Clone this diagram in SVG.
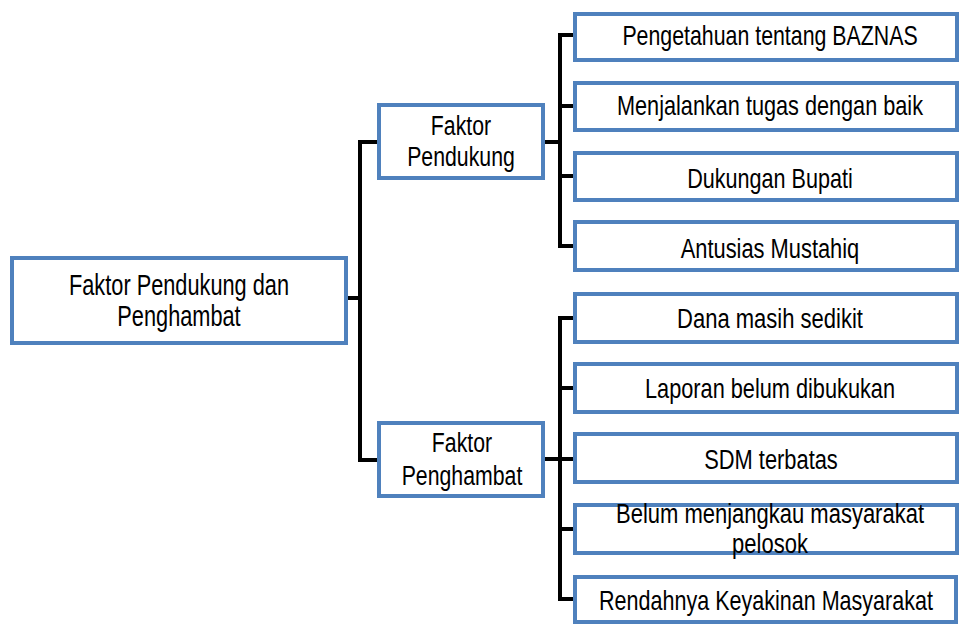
<svg xmlns="http://www.w3.org/2000/svg" width="961" height="624" viewBox="0 0 961 624">
<style>
.box{fill:#fff;stroke:#4F81BD;stroke-width:4}
.t{font-family:"Liberation Sans",Arial,sans-serif;fill:#000;text-anchor:middle}
.l{font-size:29px}
.m{font-size:28px}
.r{font-size:27px}
.c{fill:none;stroke:#000;stroke-width:4;stroke-linejoin:miter}
</style>
<rect width="961" height="624" fill="#fff"/>
<g id="connectors">
<path class="c" d="M346 298H360M379 142H360V460H379"/>
<path class="c" d="M543 142H560M575 35H560V246H575M560 106H575M560 176H575"/>
<path class="c" d="M543 459H560M575 318H560V599H575M560 388H575M560 459H575M560 529H575"/>
</g>
<g id="root">
<rect class="box" x="12" y="258" width="334" height="85"/>
<g transform="translate(179 0) scale(0.75 1)">
<text class="t l" x="0" y="295">Faktor Pendukung dan</text>
<text class="t l" x="0" y="326">Penghambat</text>
</g>
</g>
<g id="pendukung">
<rect class="box" x="379" y="105" width="164" height="73"/>
<g transform="translate(461 0) scale(0.76 1)">
<text class="t m" x="0" y="135">Faktor</text>
<text class="t m" x="0" y="166">Pendukung</text>
</g>
</g>
<g id="penghambat">
<rect class="box" x="379" y="423" width="164" height="73"/>
<g transform="translate(462 0) scale(0.76 1)">
<text class="t m" x="0" y="452">Faktor</text>
<text class="t m" x="0" y="485">Penghambat</text>
</g>
</g>
<g id="n1">
<rect class="box" x="575" y="14" width="382" height="46"/>
<text class="t r" transform="translate(770 0) scale(0.79 1)" x="0" y="45">Pengetahuan tentang BAZNAS</text>
</g>
<g id="n2">
<rect class="box" x="575" y="83" width="382" height="47"/>
<text class="t r" transform="translate(770 0) scale(0.803 1)" x="0" y="115">Menjalankan tugas dengan baik</text>
</g>
<g id="n3">
<rect class="box" x="575" y="153" width="382" height="47"/>
<text class="t r" transform="translate(770 0) scale(0.8 1)" x="0" y="188">Dukungan Bupati</text>
</g>
<g id="n4">
<rect class="box" x="575" y="222" width="382" height="48"/>
<text class="t r" transform="translate(770 0) scale(0.81 1)" x="0" y="258">Antusias Mustahiq</text>
</g>
<g id="n5">
<rect class="box" x="575" y="294" width="382" height="48"/>
<text class="t r" transform="translate(770 0) scale(0.815 1)" x="0" y="328">Dana masih sedikit</text>
</g>
<g id="n6">
<rect class="box" x="575" y="364" width="382" height="48"/>
<text class="t r" transform="translate(770 0) scale(0.805 1)" x="0" y="398">Laporan belum dibukukan</text>
</g>
<g id="n7">
<rect class="box" x="575" y="434" width="382" height="48"/>
<text class="t r" transform="translate(771 0) scale(0.81 1)" x="0" y="469">SDM terbatas</text>
</g>
<g id="n8">
<rect class="box" x="575" y="505" width="382" height="48"/>
<g transform="translate(770 0) scale(0.815 1)">
<text class="t r" x="0" y="523">Belum menjangkau masyarakat</text>
<text class="t r" x="0" y="553">pelosok</text>
</g>
</g>
<g id="n9">
<rect class="box" x="575" y="577" width="381" height="45"/>
<text class="t r" transform="translate(766 0) scale(0.798 1)" x="0" y="610">Rendahnya Keyakinan Masyarakat</text>
</g>
</svg>
